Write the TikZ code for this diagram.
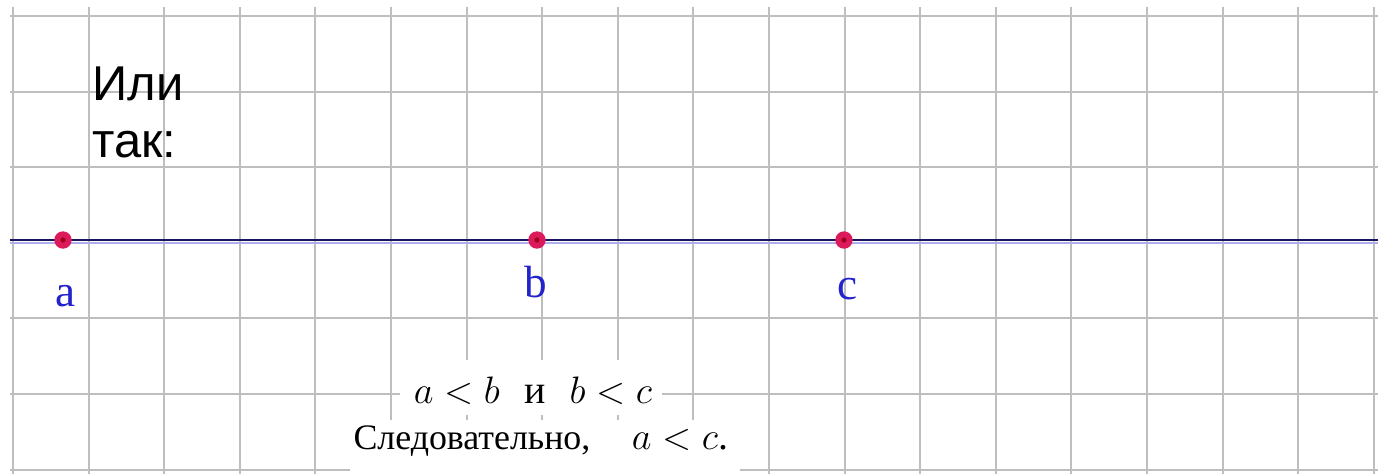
\documentclass[tikz,border=0pt]{standalone}
\usepackage{fontspec}
\newfontfamily\arialfont{Liberation Sans}
\newfontfamily\timesfont{Liberation Serif}
\definecolor{gridgray}{RGB}{190,190,190}
\definecolor{axisnavy}{RGB}{25,20,95}
\definecolor{axisshade}{RGB}{175,175,235}
\definecolor{dotred}{RGB}{220,25,90}
\definecolor{dotcore}{RGB}{160,0,30}
\definecolor{labelblue}{RGB}{35,35,205}

\begin{document}
\begin{tikzpicture}[
    gridline/.style={gridgray, line width=0.75pt},
    numline/.style={axisnavy, line width=0.8pt},
    pointdot/.style={circle, fill=dotred, minimum size=0.23cm, inner sep=0pt,
      path picture={\fill[dotcore] (path picture bounding box.center) circle (0.035cm);}},
    ptlabel/.style={labelblue, font=\timesfont\fontsize{17}{17}\selectfont, anchor=base, inner sep=0pt},
    scantext/.style={inner sep=0pt, anchor=base}
  ]
  \useasboundingbox (0,0) rectangle (18.228,6.27);

  % сетка
  \foreach \k in {0,...,18}
    \draw[gridline] (0.172+\k,6.177) -- (0.172+\k,0);
  \foreach \k in {0,...,6}
    \draw[gridline] (0.13,6.058-\k) -- (18.228,6.058-\k);

  % числовая прямая
  \coordinate (lstart) at (0.13,3.095);
  \coordinate (lend) at (18.228,3.095);
  \draw[axisshade, line width=0.7pt] ([yshift=-0.04cm]lstart) -- ([yshift=-0.04cm]lend);
  \draw[numline] (lstart) -- (lend);

  % точки a, b, c
  \node[pointdot] (pa) at (0.833,3.095) {};
  \node[pointdot] (pb) at (7.103,3.095) {};
  \node[pointdot] (pc) at (11.164,3.095) {};

  % подписи точек
  \node[ptlabel] (la) at (0.873,2.222) {a};
  \node[ptlabel] (lb) at (7.090,2.341) {b};
  \node[ptlabel] (lc) at (11.217,2.302) {c};

  % заголовок
  \node[font=\arialfont\fontsize{18.4}{21.4}\selectfont, align=left,
        anchor=base west, inner sep=0pt] (title) at (1.217,4.193) {Или\\так:};

  % белый фон под вставками
  \fill[white] (5.291,1.508) rectangle (8.757,0.781);
  \fill[white] (4.630,0.714) rectangle (9.790,0);

  % вывод
  \node[scantext, font=\fontsize{14}{16}\selectfont] (ineq) at (7.050,0.926)
        {$a<b$\ \ {\timesfont\fontsize{15}{16}\selectfont и}\ \ $b<c$};
  \node[scantext, anchor=base west, font=\timesfont\fontsize{13.5}{15}\selectfont] (concl) at (4.669,0.318)
        {Следовательно,\hspace{0.55cm}{\fontsize{15}{16}\selectfont$a<c$.}};

\end{tikzpicture}
\end{document}
